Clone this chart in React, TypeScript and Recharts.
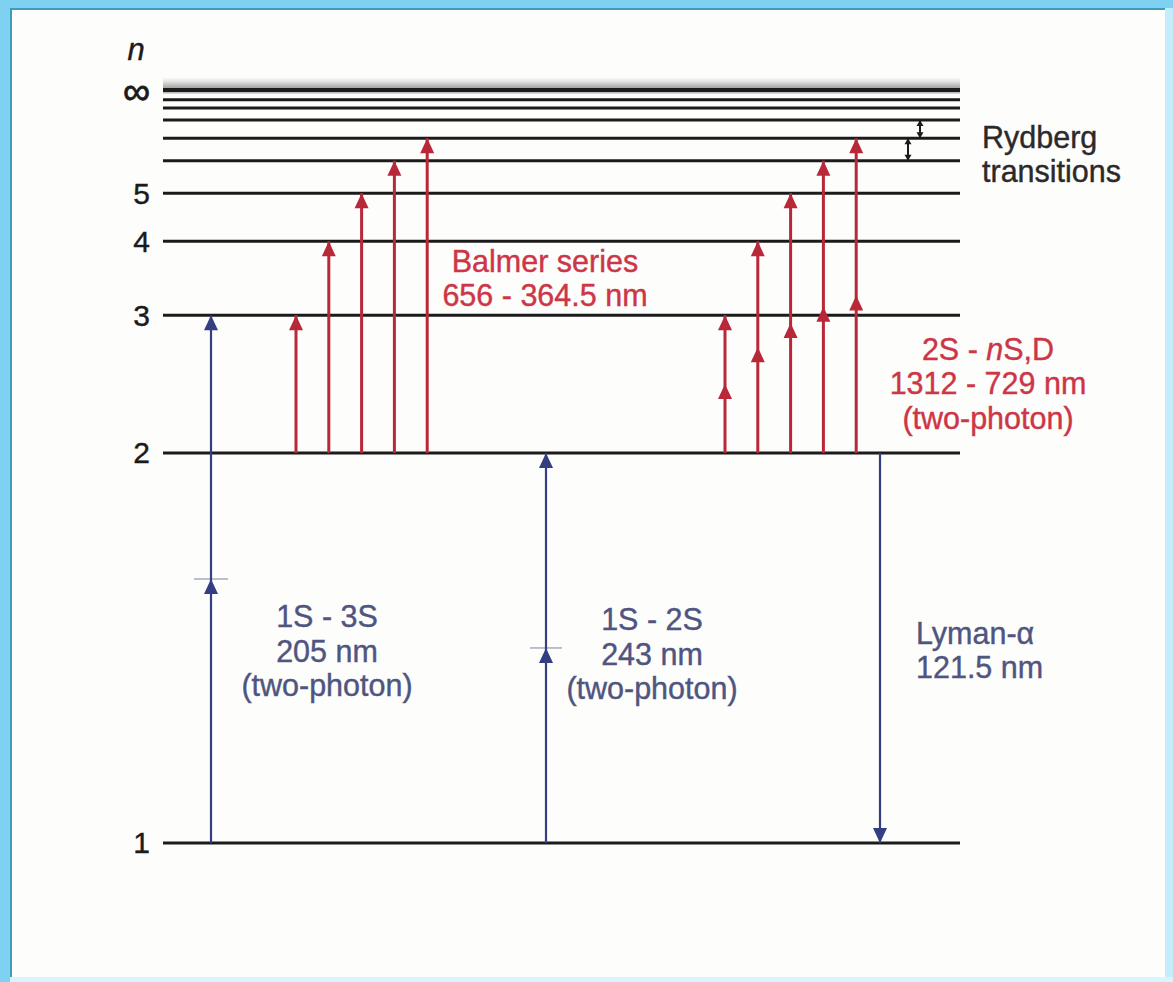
import React from 'react';
import { ComposedChart, XAxis, YAxis, ReferenceLine, ReferenceDot, ReferenceArea } from 'recharts';

// hydrogen levels on a relative energy scale: n = 1 at 0, ionisation limit at 100
const levelNames = ['1', '2', '3', '4', '5', '6', '7', '8', '9', '10', '∞'];
const levelEnergy = [0, 51.8, 70.1, 79.9, 86.3, 90.6, 93.6, 96.0, 97.6, 98.7, 100];
// levels that get a number on the axis
const axisLabels = ['1', '2', '3', '4', '5', '∞'];

// upper levels reached from n = 2
const balmerUpper = ['3', '4', '5', '6', '7'];
const twoPhotonUpper = ['3', '4', '5', '6', '7'];
// neighbouring levels marked as Rydberg intervals
const rydbergPairs: [string, string][] = [['6', '7'], ['7', '8']];

// label text; *...* is set in italics
const balmerLines = ['Balmer series', '656 - 364.5 nm'];
const twoPhotonLines = ['2S - *n*S,D', '1312 - 729 nm', '(two-photon)'];
const rydbergLines = ['Rydberg', 'transitions'];
const oneThreeLines = ['1S - 3S', '205 nm', '(two-photon)'];
const oneTwoLines = ['1S - 2S', '243 nm', '(two-photon)'];
const lymanLines = ['Lyman-α', '121.5 nm'];

const E = (n: string) => levelEnergy[levelNames.indexOf(n)];

const RED = '#b82838';
const RED_TEXT = '#cc3646';
const BLUE = '#333f82';
const BLUE_TEXT = '#4f5580';
const INK = '#1b1b1b';
const FONT = '"Liberation Sans", Arial, Helvetica, sans-serif';

// horizontal layout, in x-axis units (0..100 across the plot)
const LINE_END = 79.7;
const X_1S3S = 4.8;
const X_BALMER = 13.3;
const X_1S2S = 38.3;
const X_2SNS = 56.2;
const X_LYMAN = 71.7;
const X_RYD = [74.5, 75.7];
const STEP = 3.28;
const LINE_GAP = 4.55; // spacing of stacked text lines, y units

// triangle with its tip on (cx, cy); dir 1 points up, -1 points down
const headShape = (dir: number, color: string, w: number, h: number) => (p: any) => (
  <path
    d={`M${p.cx},${p.cy} L${p.cx - w / 2},${p.cy + dir * h} L${p.cx + w / 2},${p.cy + dir * h} Z`}
    fill={color}
  />
);

const rich = (s: string) =>
  s.split('*').map((part, i) =>
    i % 2 ? (
      <tspan key={i} fontStyle="italic">
        {part}
      </tspan>
    ) : (
      <tspan key={i}>{part}</tspan>
    )
  );

const textShape = (s: string, color: string, anchor: string, size = 30.5, italic = false) => (p: any) => (
  <text
    x={p.cx}
    y={p.cy}
    textAnchor={anchor}
    dominantBaseline="central"
    fill={color}
    stroke={color}
    strokeWidth={0.4}
    fontSize={size}
    fontStyle={italic ? 'italic' : 'normal'}
    fontFamily={FONT}
  >
    {rich(s)}
  </text>
);

function arrow(key: string, x: number, from: number, to: number, color: string, sw: number, tips: number[]) {
  const dir = to > from ? 1 : -1;
  const els = [
    <ReferenceLine
      key={key + '-shaft'}
      segment={[{ x, y: from }, { x, y: to }]}
      stroke={color}
      strokeWidth={sw}
      ifOverflow="visible"
    />,
  ];
  tips.forEach((t, i) =>
    els.push(
      <ReferenceDot key={key + '-head' + i} x={x} y={t} ifOverflow="visible" shape={headShape(dir, color, 14, 15)} />
    )
  );
  return els;
}

function stack(key: string, x: number, yTop: number, lines: string[], color: string, anchor = 'middle') {
  return lines.map((s, i) => (
    <ReferenceDot
      key={key + i}
      x={x}
      y={yTop - i * LINE_GAP}
      ifOverflow="visible"
      shape={textShape(s, color, anchor)}
    />
  ));
}

const LevelTick = (p: any) => {
  const name = levelNames[levelEnergy.indexOf(p.payload.value)];
  const inf = name === '∞';
  return (
    <text
      x={p.x}
      y={inf ? p.y + 1 : p.y}
      textAnchor="end"
      dominantBaseline="central"
      fontSize={inf ? 38 : 30}
      fill={INK}
      stroke={INK}
      strokeWidth={inf ? 0.8 : 0.4}
      fontFamily={FONT}
    >
      {name}
    </text>
  );
};

export default function App() {
  const n2 = E('2');
  const n1 = E('1');
  const n3 = E('3');

  return (
    <div style={{ position: 'absolute', left: 0, top: 0, width: 1173, height: 982, background: '#7fd1f1', overflow: 'hidden' }}>
      <div style={{ position: 'absolute', right: 0, top: 8, width: 8, bottom: 0, background: '#c4eefb' }} />
      <div style={{ position: 'absolute', left: 10, right: 0, bottom: 0, height: 5, background: '#d6f5fd' }} />
      <div
        style={{
          position: 'absolute',
          left: 10,
          top: 8,
          right: 8,
          bottom: 5,
          background: '#fdfdfc',
          borderLeft: '2px solid #3f9cbd',
          borderTop: '2px solid #3f9cbd',
          boxSizing: 'border-box',
        }}
      />
      <div style={{ position: 'absolute', left: 0, top: 0 }}>
        <ComposedChart width={1173} height={982} margin={{ top: 14.7, right: 10, bottom: 3.5, left: 0 }}>
          <defs>
            <linearGradient id="limitHaze" x1="0" y1="1" x2="0" y2="0">
              <stop offset="0%" stopColor="#7a7a7a" stopOpacity={0.8} />
              <stop offset="30%" stopColor="#2a2a2a" stopOpacity={0.95} />
              <stop offset="60%" stopColor="#6a6a6a" stopOpacity={0.75} />
              <stop offset="100%" stopColor="#d0d0d0" stopOpacity={0.25} />
            </linearGradient>
          </defs>
          <XAxis type="number" dataKey="x" domain={[0, 100]} hide allowDataOverflow />
          <YAxis
            type="number"
            domain={[-18, 110]}
            ticks={axisLabels.map(E)}
            interval={0}
            width={163}
            axisLine={false}
            tickLine={false}
            tickSize={0}
            tickMargin={13}
            tick={LevelTick}
            allowDataOverflow
          />

          {/* haze round the series limit */}
          <ReferenceArea x1={0} x2={LINE_END} y1={99.5} y2={101.6} fill="url(#limitHaze)" stroke="none" ifOverflow="visible" />

          {/* energy levels */}
          {levelEnergy.map((e, i) => (
            <ReferenceLine
              key={'lvl' + i}
              segment={[{ x: 0, y: e }, { x: LINE_END, y: e }]}
              stroke={INK}
              strokeWidth={levelNames[i] === '∞' ? 4 : 3}
              ifOverflow="visible"
            />
          ))}

          {/* virtual levels of the two-photon UV transitions */}
          <ReferenceLine
            segment={[{ x: X_1S3S - 1.7, y: (n1 + n3) / 2 }, { x: X_1S3S + 1.7, y: (n1 + n3) / 2 }]}
            stroke="#a4a9c2"
            strokeWidth={1.5}
            ifOverflow="visible"
          />
          <ReferenceLine
            segment={[{ x: X_1S2S - 1.6, y: (n1 + n2) / 2 }, { x: X_1S2S + 1.6, y: (n1 + n2) / 2 }]}
            stroke="#a4a9c2"
            strokeWidth={1.5}
            ifOverflow="visible"
          />

          {arrow('1s3s', X_1S3S, n1, n3, BLUE, 2.2, [n3, (n1 + n3) / 2])}
          {arrow('1s2s', X_1S2S, n1, n2, BLUE, 2.2, [n2, (n1 + n2) / 2])}
          {arrow('lyman', X_LYMAN, n2, n1, BLUE, 2.2, [n1])}

          {balmerUpper.flatMap((u, i) => arrow('balmer' + u, X_BALMER + i * STEP, n2, E(u), RED, 3, [E(u)]))}
          {twoPhotonUpper.flatMap((u, i) =>
            arrow('tp' + u, X_2SNS + i * STEP, n2, E(u), RED, 3, [E(u), (n2 + E(u)) / 2])
          )}

          {/* Rydberg interval markers */}
          {rydbergPairs.flatMap(([lo, hi], i) => [
            <ReferenceLine
              key={'ryd' + i}
              segment={[{ x: X_RYD[i], y: E(lo) }, { x: X_RYD[i], y: E(hi) }]}
              stroke={INK}
              strokeWidth={2}
              ifOverflow="visible"
            />,
            <ReferenceDot key={'rydt' + i} x={X_RYD[i]} y={E(hi)} ifOverflow="visible" shape={headShape(1, INK, 7, 6)} />,
            <ReferenceDot key={'rydb' + i} x={X_RYD[i]} y={E(lo)} ifOverflow="visible" shape={headShape(-1, INK, 7, 6)} />,
          ])}

          {/* labels */}
          <ReferenceDot x={-2.7} y={105.4} ifOverflow="visible" shape={textShape('n', INK, 'middle', 31, true)} />
          {stack('balmer', 38.2, 77.3, balmerLines, RED_TEXT)}
          {stack('tp', 82.5, 65.6, twoPhotonLines, RED_TEXT)}
          {stack('ryd', 81.9, 93.8, rydbergLines, '#2a2a2a', 'start')}
          {stack('13', 16.4, 30.1, oneThreeLines, BLUE_TEXT)}
          {stack('12', 48.9, 29.7, oneTwoLines, BLUE_TEXT)}
          {stack('ly', 75.3, 27.9, lymanLines, BLUE_TEXT, 'start')}
        </ComposedChart>
      </div>
    </div>
  );
}
